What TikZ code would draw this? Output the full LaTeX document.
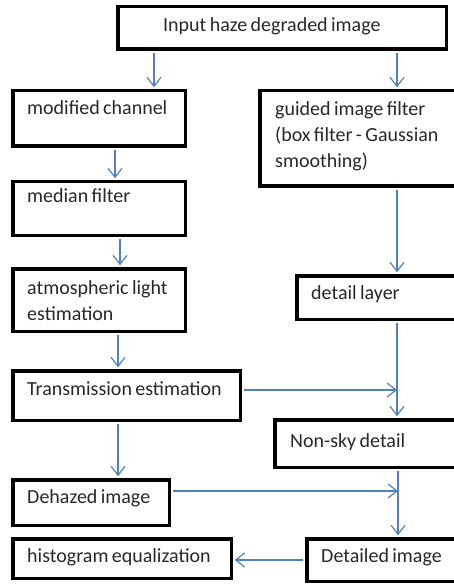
\documentclass[tikz,border=0pt]{standalone}
\usepackage{fontspec}
\setmainfont{Carlito}
\usetikzlibrary{arrows.meta}
\definecolor{arrblue}{RGB}{79,129,189}
\definecolor{txtgray}{RGB}{40,40,40}
\newcommand\mylblfont{\fontsize{20}{26}\selectfont\spaceskip=3.4pt plus 1pt minus 0.5pt\relax}
\begin{document}
\begin{tikzpicture}[x=1pt,y=-1pt,
  box/.style 2 args={draw=black, line width=3.5pt, rectangle, inner sep=0pt,
    minimum width=#1, minimum height=#2},
  lbl/.style={anchor=base west, inner sep=0pt, text=txtgray, font=\mylblfont},
  mlbl/.style={lbl, align=left},
  arr/.style={draw=arrblue, line width=1.2pt,
    -{Straight Barb[length=9pt,width=14pt,line width=1.2pt]}}]
\useasboundingbox (0,0) rectangle (454,585);
\fill[white] (0,0) rectangle (454,585);
% boxes
\node[box={328.5pt}{42.5pt}] (in)   at (282,28) {};
\node[box={172.5pt}{55.5pt}] (mc)   at (99,118.5) {};
\node[box={208.5pt}{95.5pt}] (gf)   at (364,138.5) {};
\node[box={172.5pt}{53.5pt}] (med)  at (99,208.5) {};
\node[box={172.5pt}{62.5pt}] (atm)  at (99,300) {};
\node[box={171.5pt}{43.5pt}] (dl)   at (382.5,297.5) {};
\node[box={227.5pt}{49.5pt}] (tr)   at (126.5,395.5) {};
\node[box={193.5pt}{47.5pt}] (ns)   at (371.5,443.5) {};
\node[box={156.5pt}{45.5pt}] (dh)   at (91,502.5) {};
\node[box={218.5pt}{39.5pt}] (hist) at (122,558.5) {};
\node[box={161.5pt}{42.5pt}] (di)   at (387.5,560) {};
% labels (multi-line labels: base = last line)
\node[lbl] (tin)  at (163,32)  {Input haze degraded image};
\node[lbl] (tmc)  at (27,115)  {modified channel};
\node[mlbl] (tgf) at (275,168) {guided image filter\\(box filter - Gaussian\\smoothing)};
\node[lbl] (tmed) at (27,203)  {median filter};
\node[mlbl] (tatm) at (27,320) {atmospheric light\\estimation};
\node[lbl] (tdl)  at (311,299) {detail layer};
\node[lbl] (ttr)  at (27,395)  {Transmission estimation};
\node[lbl] (tns)  at (290,447) {Non-sky detail};
\node[lbl] (tdh)  at (27,503)  {Dehazed image};
\node[lbl] (thist) at (27,562) {histogram equalization};
\node[lbl] (tdi)  at (321,562) {Detailed image};
% lanes
\coordinate (xa) at (154,0);
\coordinate (xb) at (397,0);
\coordinate (xc) at (115,0);
\coordinate (xd) at (120,0);
\coordinate (xe) at (118,0);
\coordinate (xf) at (398,0);
\coordinate (ya) at (0,390);
\coordinate (yb) at (0,491);
\coordinate (yc) at (0,560);
\coordinate (m1) at (397,390);
\coordinate (m2) at (398,491);
% connectors
\draw[arr] ([yshift=-1.75pt]in.south -| xa) -- ([yshift=1.75pt]mc.north -| xa);
\draw[arr] ([yshift=-1.75pt]in.south -| xb) -- ([yshift=1.75pt]gf.north -| xb);
\draw[arr] ([yshift=-1.75pt]mc.south -| xc) -- ([yshift=1.75pt]med.north -| xc);
\draw[arr] ([yshift=-1.75pt]med.south -| xd) -- ([yshift=1.75pt]atm.north -| xd);
\draw[arr] ([yshift=-1.75pt]gf.south -| xb) -- ([yshift=1.75pt]dl.north -| xb);
\draw[arr] ([yshift=-1.75pt]atm.south -| xe) -- ([yshift=1.75pt]tr.north -| xe);
\draw[arr] ([yshift=-1.75pt]dl.south -| xb) -- ([yshift=1.75pt]ns.north -| xb);
\draw[arr] ([xshift=1.75pt]tr.east |- ya) -- (m1);
\draw[arr] ([yshift=-1.75pt]tr.south -| xe) -- ([yshift=1.75pt]dh.north -| xe);
\draw[arr] ([yshift=-1.75pt]ns.south -| xf) -- ([yshift=1.75pt]di.north -| xf);
\draw[arr] ([xshift=1.75pt]dh.east |- yb) -- (m2);
\draw[arr] ([xshift=-1.75pt]di.west |- yc) -- ([xshift=1.75pt]hist.east |- yc);
\end{tikzpicture}
\end{document}
